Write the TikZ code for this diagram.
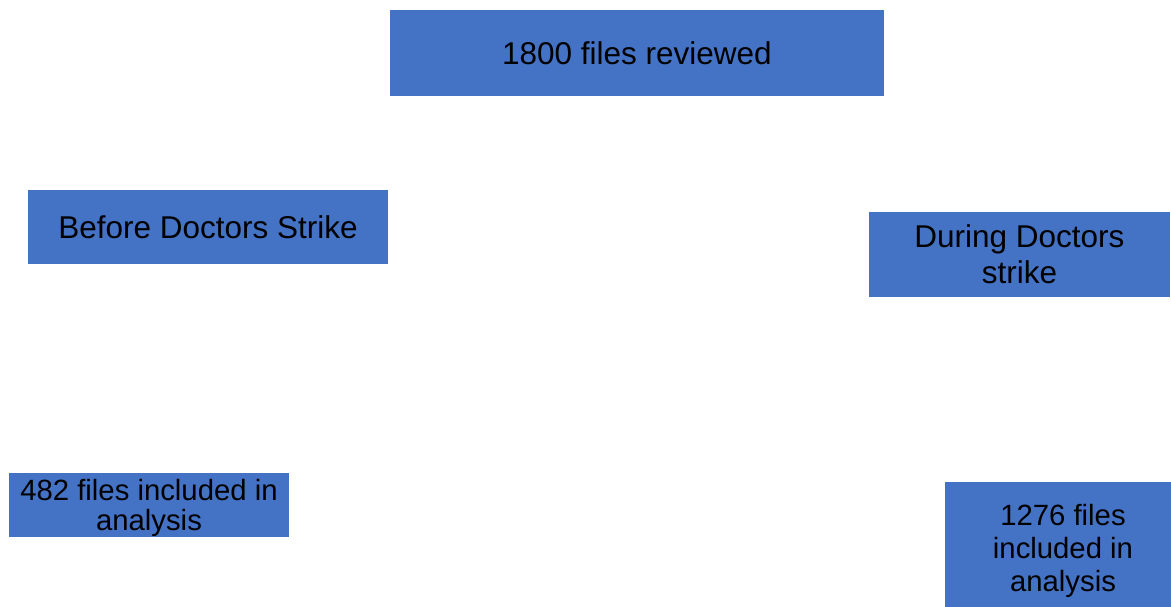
\documentclass[tikz,border=0pt]{standalone}
\usepackage{fontspec}
\setmainfont{Liberation Sans}
\definecolor{boxblue}{HTML}{4472C4}
\tikzset{
  stage/.style={rectangle, fill=boxblue, draw=none, inner sep=0pt,
    align=center, text=black, text depth=0pt},
  caption/.style={inner sep=0pt, align=center, text=black, text depth=0pt},
  bigtext/.style={font=\fontsize{31.5}{36}\selectfont},
  midtext/.style={font=\fontsize{29.3}{30.5}\selectfont},
  tiertext/.style={font=\fontsize{29.3}{33}\selectfont},
}
\begin{document}
\begin{tikzpicture}[x=1pt, y=-1pt]
  \useasboundingbox (0,0) rectangle (1171,607);

  % top: total files
  \node[stage, bigtext, minimum width=494pt, minimum height=86pt]
    (total) at (637,53) {1800 files reviewed};

  % the two periods
  \node[stage, bigtext, minimum width=360pt, minimum height=74pt]
    (before) at (208,227) {Before Doctors Strike};
  \node[stage, bigtext, minimum width=301pt, minimum height=85pt]
    (during) at (1019.5,254.5) {During Doctors\\strike};

  % files kept for analysis
  \node[stage, midtext, minimum width=280pt, minimum height=64pt]
    (incbefore) at (149,505) {482 files included in\\analysis};
  \node[stage, minimum width=226pt, minimum height=125pt]
    (incduring) at (1058,544.5) {};
  \node[caption, tiertext, xshift=5pt, yshift=-3pt]
    (incduringtext) at (incduring.center) {1276 files\\included in\\analysis};
\end{tikzpicture}
\end{document}
